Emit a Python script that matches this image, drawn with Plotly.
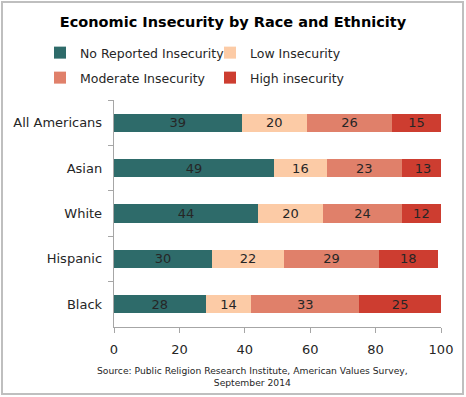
import plotly.graph_objects as go

categories = ["All Americans", "Asian", "White", "Hispanic", "Black"]
series_names = ["No Reported Insecurity", "Low Insecurity", "Moderate Insecurity", "High insecurity"]
no_reported = [39, 49, 44, 30, 28]
low = [20, 16, 20, 22, 14]
moderate = [26, 23, 24, 29, 33]
high = [15, 13, 12, 18, 25]
colors = ["#2E6B6A", "#FCCBA6", "#E0806A", "#CD3D30"]
x_ticks = [0, 20, 40, 60, 80, 100]

FONT = "DejaVu Sans"
W, H = 466, 397
ML, MR, MT, MB = 114, 25, 100, 70

pw = W - ML - MR
ph = H - MT - MB
def px2x(px):
    return (px - ML) / pw
def py2y(py):
    return 1 - (py - MT) / ph

legend_ids = ["legend", "legend", "legend2", "legend2"]

fig = go.Figure()
for name, vals, col, lg in zip(series_names, [no_reported, low, moderate, high], colors, legend_ids):
    fig.add_trace(go.Bar(
        y=categories, x=vals, name=name, orientation="h", legend=lg,
        marker=dict(color=col, line=dict(width=0)),
        text=[str(v) for v in vals], textposition="inside",
        insidetextanchor="middle", constraintext="none",
        textfont=dict(family=FONT, size=13, color="#262626"),
        hoverinfo="skip",
    ))

legend_common = dict(orientation="h", xref="paper", yref="paper",
                     xanchor="left", yanchor="middle",
                     entrywidth=125, entrywidthmode="pixels",
                     bgcolor="rgba(0,0,0,0)",
                     font=dict(family=FONT, size=12.5, color="#262626"),
                     itemwidth=30, traceorder="normal")

fig.update_layout(
    width=W, height=H,
    margin=dict(l=ML, r=MR, t=MT, b=MB, autoexpand=False),
    barmode="stack", bargap=0.6,
    plot_bgcolor="white", paper_bgcolor="white",
    font=dict(family=FONT, size=13, color="#262626"),
    title=dict(text="<b>Economic Insecurity by Race and Ethnicity</b>",
               x=0.5, xref="container", xanchor="center",
               y=1 - 22 / H, yref="container", yanchor="middle",
               font=dict(family=FONT, size=14.5, color="#000000")),
    legend=dict(legend_common, x=px2x(40), y=py2y(53)),
    legend2=dict(legend_common, x=px2x(40), y=py2y(78)),
    showlegend=True,
    xaxis=dict(range=[0, 100], tickvals=x_ticks, showgrid=False, zeroline=False,
               showline=True, linecolor="#A6A6A6", linewidth=1,
               ticks="outside", ticklen=5, tickcolor="#A6A6A6",
               ticklabelstandoff=5,
               tickfont=dict(family=FONT, size=13, color="#262626"), fixedrange=True),
    yaxis=dict(categoryorder="array", categoryarray=categories, autorange="reversed",
               showgrid=False, zeroline=False, showline=True, linecolor="#A6A6A6",
               linewidth=1, ticks="outside", ticklen=5, tickcolor="#A6A6A6",
               tickson="boundaries", ticksuffix="  ",
               tickfont=dict(family=FONT, size=13, color="#262626")),
    annotations=[dict(
        text="Source: Public Religion Research Institute, American Values Survey,<br>September 2014",
        xref="paper", yref="paper", x=px2x(252), y=py2y(376),
        xanchor="center", yanchor="middle", showarrow=False,
        font=dict(family=FONT, size=9.2, color="#262626"))],
    shapes=[dict(type="rect", xref="paper", yref="paper",
                 x0=px2x(2), x1=px2x(463), y0=py2y(394), y1=py2y(2),
                 line=dict(color="#BFBFBF", width=2), fillcolor="rgba(0,0,0,0)")],
)

fig.write_html("out.html", config={"displayModeBar": False},
               post_script="document.body.style.margin='0';document.body.style.overflow='hidden';")
